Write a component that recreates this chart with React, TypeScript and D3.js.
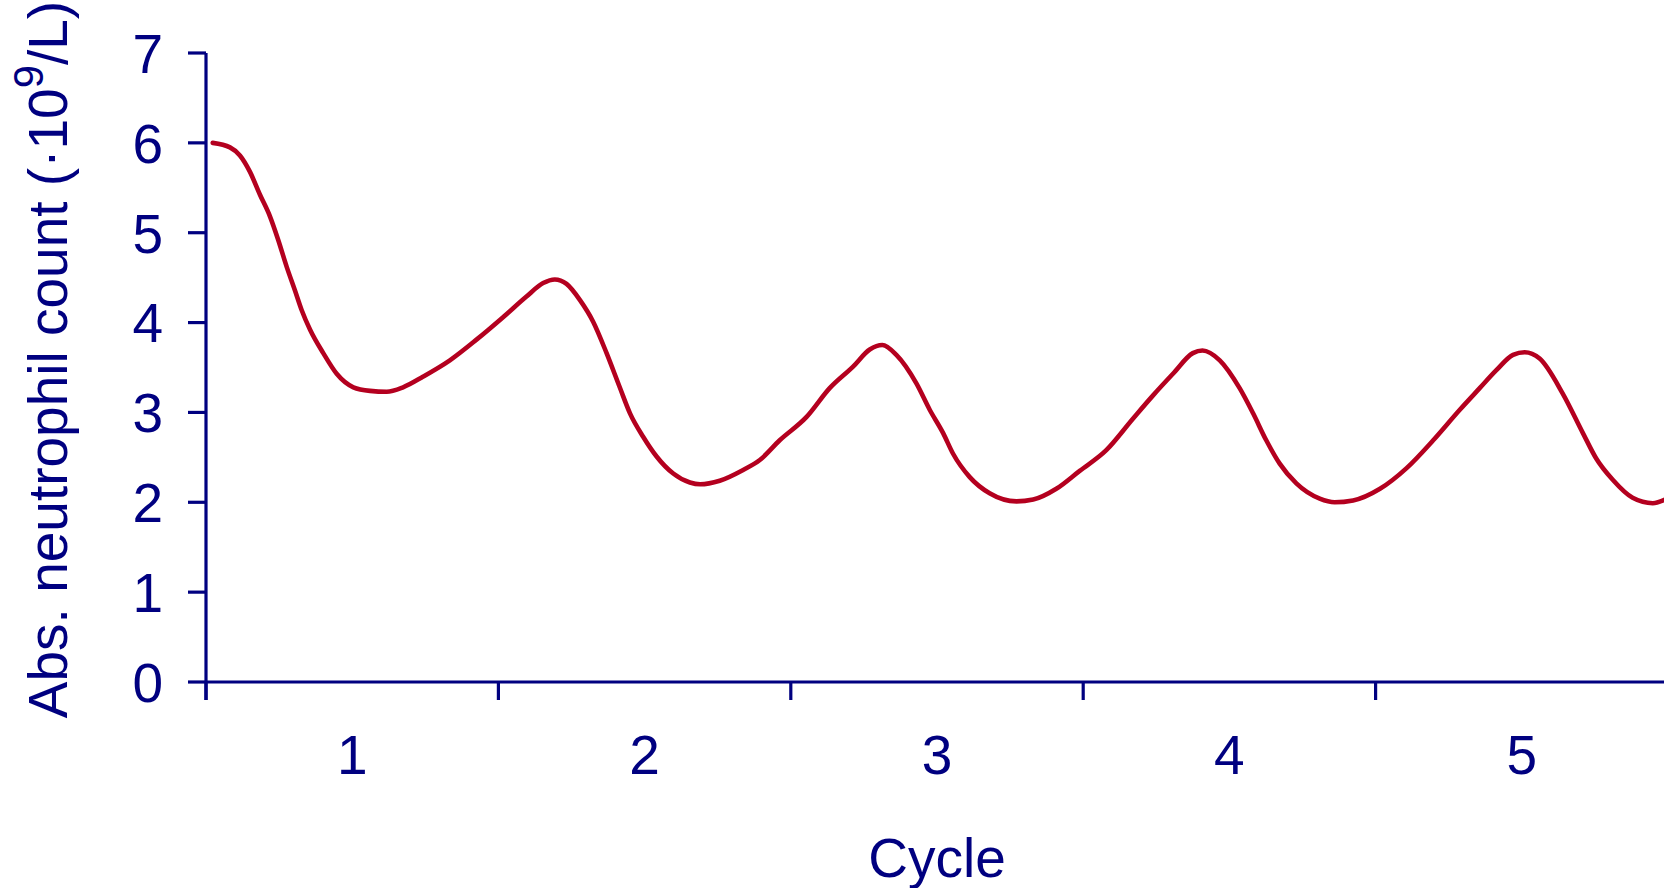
import React from "react";
import * as d3 from "d3";

// cycle position (x) and absolute neutrophil count (y)
const cyclePos = [
  0.023, 0.082, 0.116, 0.15, 0.185, 0.219, 0.247, 0.276, 0.304, 0.327, 0.356, 0.401, 0.447, 0.504,
  0.561, 0.618, 0.674, 0.743, 0.834, 0.925, 1.016, 1.096, 1.153, 1.193, 1.233, 1.279, 1.324, 1.37,
  1.415, 1.45, 1.495, 1.541, 1.598, 1.655, 1.69, 1.757, 1.837, 1.894, 1.962, 2.054, 2.133, 2.213,
  2.27, 2.313, 2.361, 2.43, 2.475, 2.521, 2.555, 2.612, 2.68, 2.772, 2.829, 2.908, 2.988, 3.079,
  3.17, 3.239, 3.307, 3.375, 3.408, 3.467, 3.535, 3.581, 3.626, 3.672, 3.729, 3.809, 3.86, 3.923,
  4.015, 4.106, 4.197, 4.288, 4.356, 4.413, 4.47, 4.51, 4.561, 4.64, 4.709, 4.754, 4.811, 4.879,
  4.948, 4.99,
];
const neutrophils = [
  6.0, 5.95, 5.86, 5.68, 5.42, 5.18, 4.92, 4.62, 4.36, 4.14, 3.92, 3.66, 3.43, 3.28,
  3.24, 3.23, 3.28, 3.4, 3.58, 3.81, 4.06, 4.29, 4.44, 4.48, 4.43, 4.25, 4.01, 3.66,
  3.28, 2.99, 2.73, 2.51, 2.32, 2.22, 2.2, 2.24, 2.36, 2.47, 2.69, 2.95, 3.27, 3.51,
  3.7, 3.75, 3.64, 3.32, 3.03, 2.77, 2.54, 2.28, 2.1, 2.01, 2.03, 2.15, 2.35, 2.58,
  2.93, 3.19, 3.43, 3.66, 3.69, 3.58, 3.27, 2.99, 2.69, 2.43, 2.21, 2.04, 2.0, 2.02,
  2.15, 2.38, 2.69, 3.03, 3.27, 3.47, 3.64, 3.67, 3.6, 3.21, 2.77, 2.49, 2.25, 2.05,
  1.99, 2.03,
];
const yTicks = [0, 1, 2, 3, 4, 5, 6, 7];
const cycleBounds = [0, 1, 2, 3, 4, 5];
const cycleLabels = ["1", "2", "3", "4", "5"];

const W = 1664;
const H = 888;
const navy = "#000080";
const red = "#b4001f";
const font = "'Liberation Sans', Arial, sans-serif";
const fs = 55;

export default function App() {
  const x = d3.scaleLinear().domain([0, 5]).range([206, 1668]);
  const y = d3.scaleLinear().domain([0, 7]).range([682, 53]);

  const pts = cyclePos.map((c, i) => [c, neutrophils[i]] as [number, number]);
  const line = d3
    .line<[number, number]>()
    .x((d) => x(d[0]))
    .y((d) => y(d[1]))
    .curve(d3.curveMonotoneX);

  return (
    <svg
      width={W}
      height={H}
      style={{ position: "fixed", left: 0, top: 0, display: "block", background: "#fff" }}
      fontFamily={font}
    >
      {/* y axis */}
      <line x1={x(0)} x2={x(0)} y1={y(7)} y2={y(0) + 18} stroke={navy} strokeWidth={3.2} />
      {yTicks.map((t) => (
        <g key={"y" + t}>
          <line x1={x(0) - 18} x2={x(0)} y1={y(t)} y2={y(t)} stroke={navy} strokeWidth={3.2} />
          <text x={163} y={y(t)} dy="0.36em" textAnchor="end" fontSize={fs} fill={navy}>
            {t}
          </text>
        </g>
      ))}
      {/* x axis */}
      <line x1={x(0)} x2={W} y1={y(0)} y2={y(0)} stroke={navy} strokeWidth={3.2} />
      {cycleBounds.map((c) => (
        <line key={"xt" + c} x1={x(c)} x2={x(c)} y1={y(0)} y2={y(0) + 18} stroke={navy} strokeWidth={3.2} />
      ))}
      {cycleLabels.map((l, i) => (
        <text key={"xl" + l} x={x(i + 0.5)} y={774} textAnchor="middle" fontSize={fs} fill={navy}>
          {l}
        </text>
      ))}
      <text x={x(2.5)} y={877} textAnchor="middle" fontSize={fs} fill={navy}>
        Cycle
      </text>
      <text
        transform={`translate(67, ${(y(0) + y(7)) / 2 - 8}) rotate(-90)`}
        textAnchor="middle"
        fontSize={fs}
        fill={navy}
      >
        Abs. neutrophil count (·10<tspan dy="-24" fontSize={42}>9</tspan>
        <tspan dy="24">/L)</tspan>
      </text>
      {/* data */}
      <path d={line(pts) ?? ""} fill="none" stroke={red} strokeWidth={4.6} strokeLinejoin="round" strokeLinecap="round" />
    </svg>
  );
}
